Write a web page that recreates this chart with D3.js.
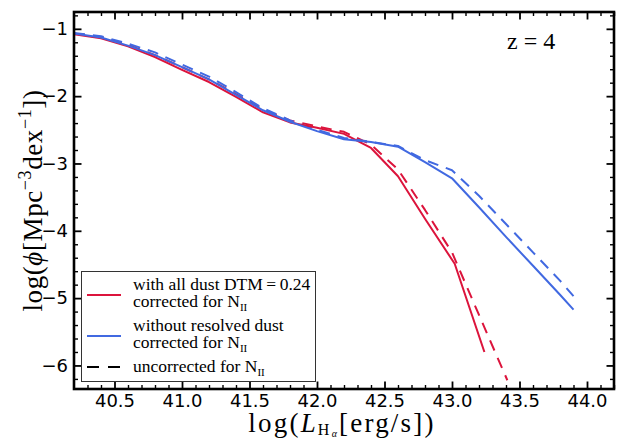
<!DOCTYPE html>
<html>
<head>
<meta charset="utf-8">
<script src="https://cdn.jsdelivr.net/npm/d3@7"></script>
<style>
  html, body { margin: 0; padding: 0; background: #fff; }
  svg { display: block; }
</style>
</head>
<body>
<svg id="chart" width="623" height="438"></svg>
<script>
// ---- data ----
const redSolidX = [40.2, 40.4, 40.6, 40.8, 41.0, 41.2, 41.4, 41.6, 41.8, 42.0, 42.2, 42.4, 42.6, 42.8, 43.02, 43.24];
const redSolidY = [-1.08, -1.14, -1.26, -1.42, -1.61, -1.79, -2.01, -2.24, -2.39, -2.47, -2.56, -2.77, -3.19, -3.82, -4.49, -5.80];

const redDashX = [40.2, 40.4, 40.6, 40.8, 41.0, 41.2, 41.4, 41.6, 41.8, 42.0, 42.2, 42.4, 42.6, 42.8, 43.0, 43.2, 43.41];
const redDashY = [-1.07, -1.12, -1.24, -1.39, -1.57, -1.75, -1.97, -2.20, -2.36, -2.45, -2.53, -2.72, -3.09, -3.69, -4.32, -5.25, -6.22];

const blueSolidX = [40.2, 40.4, 40.6, 40.8, 41.0, 41.2, 41.4, 41.6, 41.8, 42.0, 42.2, 42.4, 42.6, 42.8, 43.0, 43.2, 43.4, 43.6, 43.8, 43.9];
const blueSolidY = [-1.07, -1.13, -1.25, -1.39, -1.57, -1.75, -1.98, -2.21, -2.38, -2.52, -2.64, -2.68, -2.75, -2.98, -3.22, -3.65, -4.09, -4.52, -4.95, -5.17];

const blueDashX = [40.2, 40.4, 40.6, 40.8, 41.0, 41.2, 41.4, 41.6, 41.8, 42.0, 42.2, 42.4, 42.6, 42.8, 43.0, 43.2, 43.4, 43.6, 43.8, 43.9];
const blueDashY = [-1.06, -1.11, -1.22, -1.35, -1.53, -1.71, -1.94, -2.18, -2.36, -2.50, -2.62, -2.68, -2.74, -2.95, -3.10, -3.48, -3.90, -4.32, -4.74, -4.97];

const xMajorTicks = [40.5, 41.0, 41.5, 42.0, 42.5, 43.0, 43.5, 44.0];
const yMajorTicks = [-6, -5, -4, -3, -2, -1];
const xDomain = [40.2, 44.2];
const yDomain = [-6.35, -0.75];

const legendLabels = [
  ["with all dust DTM\u2009=\u20090.24", "corrected for N"],
  ["without resolved dust", "corrected for N"],
  ["uncorrected for N"]
];

// ---- layout ----
const svg = d3.select("#chart");
const L = 74, R = 614, T = 12, B = 389;
const x = d3.scaleLinear().domain(xDomain).range([L, R]);
const y = d3.scaleLinear().domain(yDomain).range([B, T]);
const RED = "#DC143C", BLUE = "#4169E1";
const SERIF = "'Liberation Serif', 'DejaVu Serif', serif";
const SANS = "'DejaVu Sans', sans-serif";

const xMinor = d3.range(40.3, 44.2, 0.1).map(v => +v.toFixed(1)).filter(v => !xMajorTicks.some(m => Math.abs(m - v) < 1e-6));
const yMinor = d3.range(-6.2, -0.75, 0.2).map(v => +v.toFixed(1)).filter(v => !yMajorTicks.some(m => Math.abs(m - v) < 1e-6));

// ---- lines ----
const line = d3.line().x(d => x(d[0])).y(d => y(d[1]));
const series = [
  {xs: redDashX, ys: redDashY, c: RED, dash: "11,8"},
  {xs: blueDashX, ys: blueDashY, c: BLUE, dash: "11,8"},
  {xs: redSolidX, ys: redSolidY, c: RED, dash: null},
  {xs: blueSolidX, ys: blueSolidY, c: BLUE, dash: null}
];
svg.append("clipPath").attr("id", "clip").append("rect")
  .attr("x", L).attr("y", T).attr("width", R - L).attr("height", B - T);
const gLines = svg.append("g").attr("clip-path", "url(#clip)");
series.forEach(s => {
  gLines.append("path")
    .attr("d", line(s.xs.map((v, i) => [v, s.ys[i]])))
    .attr("fill", "none")
    .attr("stroke", s.c)
    .attr("stroke-width", 2)
    .attr("stroke-linejoin", "round")
    .attr("stroke-dasharray", s.dash);
});

// ---- axes ----
function styleAxis(g, w) {
  g.select(".domain").remove();
  g.selectAll(".tick line").attr("stroke", "#000").attr("stroke-width", w);
  g.selectAll("text").attr("font-family", SANS).attr("font-size", 18).attr("fill", "#000");
}
const fmtX = d3.format(".1f");
const fmtY = d => (d < 0 ? "\u2212" : "") + Math.abs(d);

svg.append("g").attr("transform", `translate(0,${B})`)
  .call(d3.axisBottom(x).tickValues(xMajorTicks).tickFormat(fmtX).tickSize(-7.5).tickPadding(5))
  .call(g => styleAxis(g, 1.8));
svg.append("g").attr("transform", `translate(0,${B})`)
  .call(d3.axisBottom(x).tickValues(xMinor).tickFormat("").tickSize(-4))
  .call(g => styleAxis(g, 1.4));
svg.append("g").attr("transform", `translate(0,${T})`)
  .call(d3.axisTop(x).tickValues(xMajorTicks).tickFormat("").tickSize(-7.5))
  .call(g => styleAxis(g, 1.8));
svg.append("g").attr("transform", `translate(0,${T})`)
  .call(d3.axisTop(x).tickValues(xMinor).tickFormat("").tickSize(-4))
  .call(g => styleAxis(g, 1.4));

svg.append("g").attr("transform", `translate(${L},0)`)
  .call(d3.axisLeft(y).tickValues(yMajorTicks).tickFormat(fmtY).tickSize(-7.5).tickPadding(6))
  .call(g => styleAxis(g, 1.8));
svg.append("g").attr("transform", `translate(${L},0)`)
  .call(d3.axisLeft(y).tickValues(yMinor).tickFormat("").tickSize(-4))
  .call(g => styleAxis(g, 1.4));
svg.append("g").attr("transform", `translate(${R},0)`)
  .call(d3.axisRight(y).tickValues(yMajorTicks).tickFormat("").tickSize(-7.5))
  .call(g => styleAxis(g, 1.8));
svg.append("g").attr("transform", `translate(${R},0)`)
  .call(d3.axisRight(y).tickValues(yMinor).tickFormat("").tickSize(-4))
  .call(g => styleAxis(g, 1.4));

// frame
svg.append("rect").attr("x", L).attr("y", T).attr("width", R - L).attr("height", B - T)
  .attr("fill", "none").attr("stroke", "#000").attr("stroke-width", 2.6);

// ---- math-like text helper ----
function mathText(sel, parts) {
  let cur = 0;
  parts.forEach(p => {
    const ts = sel.append("tspan").text(p.t);
    const target = p.dy || 0;
    if (target !== cur) ts.attr("dy", (target - cur) + "px");
    cur = target;
    if (p.it) ts.attr("font-style", "italic");
    if (p.fs) ts.attr("font-size", p.fs);
  });
}

// x label
const xl = svg.append("text").attr("x", (L + R) / 2 - 2).attr("y", 432)
  .attr("text-anchor", "middle").attr("font-family", SERIF).attr("font-size", 27)
  .attr("letter-spacing", 2.2).attr("fill", "#000");
mathText(xl, [
  {t: "log("}, {t: "L", it: true}, {t: "H", fs: 16, dy: 3}, {t: "\u03B1", fs: 10, dy: 5, it: true},
  {t: "[erg/s])", dy: 0}
]);

// y label
const yl = svg.append("text").attr("transform", `translate(42,${(T + B) / 2}) rotate(-90)`)
  .attr("text-anchor", "middle").attr("font-family", SERIF).attr("font-size", 27)
  .attr("letter-spacing", 0.6).attr("fill", "#000");
mathText(yl, [
  {t: "log("}, {t: "\u03D5", it: true}, {t: "[Mpc"}, {t: "\u22123", fs: 18, dy: -11},
  {t: "dex", dy: 0}, {t: "\u22121", fs: 18, dy: -11}, {t: "])", dy: 0}
]);

// z = 4
svg.append("text").attr("x", 507).attr("y", 49).attr("font-family", SERIF).attr("font-size", 24)
  .attr("fill", "#000").text("z = 4");

// ---- legend ----
const lg = svg.append("g");
lg.append("rect").attr("x", 81.5).attr("y", 271.5).attr("width", 234).attr("height", 110)
  .attr("fill", "#fff").attr("stroke", "#333").attr("stroke-width", 1);
const legendItems = [
  {c: RED, dash: null, ly: 295, lines: legendLabels[0], base: 290},
  {c: BLUE, dash: null, ly: 336, lines: legendLabels[1], base: 331},
  {c: "#000", dash: "12,9", ly: 367, lines: legendLabels[2], base: 371.5}
];
legendItems.forEach(it => {
  lg.append("line").attr("x1", 87).attr("x2", 121).attr("y1", it.ly).attr("y2", it.ly)
    .attr("stroke", it.c).attr("stroke-width", 2).attr("stroke-dasharray", it.dash);
  it.lines.forEach((s, i) => {
    const t = lg.append("text").attr("x", 133).attr("y", it.base + i * 17.3)
      .attr("font-family", SERIF).attr("font-size", 17.5).attr("fill", "#000");
    if (s.endsWith("for N")) {
      mathText(t, [{t: s}, {t: "II", fs: 11, dy: 4}]);
    } else {
      t.text(s);
    }
  });
});
</script>
</body>
</html>
